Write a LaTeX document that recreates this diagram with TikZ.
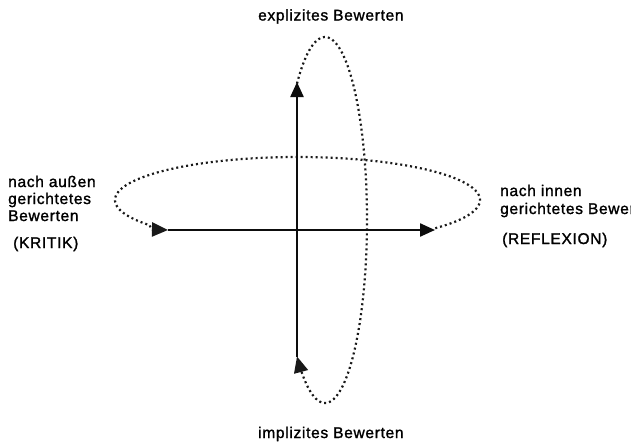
\documentclass[tikz,border=0pt]{standalone}
\usepackage{fontspec}
\setmainfont{Liberation Sans}[LetterSpace=4.5,FakeBold=1.4]
\usetikzlibrary{arrows.meta}
\begin{document}
\begin{tikzpicture}[x=1pt,y=-1pt,
  solidline/.style={line width=2.3pt,draw=black!95,-{Triangle[length=15pt,width=13pt]}},
  dotline/.style={line width=2.2pt,draw=black!90,dash pattern=on 2pt off 3pt,-{Triangle[length=16pt,width=14pt]}},
  lbl/.style={anchor=base west,inner sep=0pt,font=\fontsize{15.5}{18}\selectfont}]
\clip (0,0) rectangle (631,445);
\fill[white] (0,0) rectangle (631,445);
% anchors
\coordinate (vbot) at (297,357);
\coordinate (vtop) at (297,82);
\coordinate (hl) at (168,230);
\coordinate (hr) at (435,230);
% dotted loops
\draw[dotline] plot[domain=131.8:-131.8,samples=120,smooth] ({325+42*cos(\x)},{220-183*sin(\x)});
\draw[dotline] plot[domain=-41:216,samples=140,smooth] ({297.5+182.5*cos(\x)},{200-43*sin(\x)}) -- (151,229.5) -- (hl);
% solid axes
\draw[solidline] (vbot) -- (vtop);
\draw[solidline] (hl) -- (hr);
% labels
\node[lbl] (top) at (258,20.5) {explizites Bewerten};
\node[lbl] (bot) at (258,438) {implizites Bewerten};
\node[lbl] (l1) at (8,187) {nach außen};
\node[lbl] (l2) at (8,204) {gerichtetes};
\node[lbl] (l3) at (8,221) {Bewerten};
\node[lbl] (l4) at (13,248) {(KRITIK)};
\node[lbl] (r1) at (500,196) {nach innen};
\node[lbl] (r2) at (500,214) {gerichtetes Bewerten};
\node[lbl] (r3) at (502,244) {(REFLEXION)};
\end{tikzpicture}
\end{document}
